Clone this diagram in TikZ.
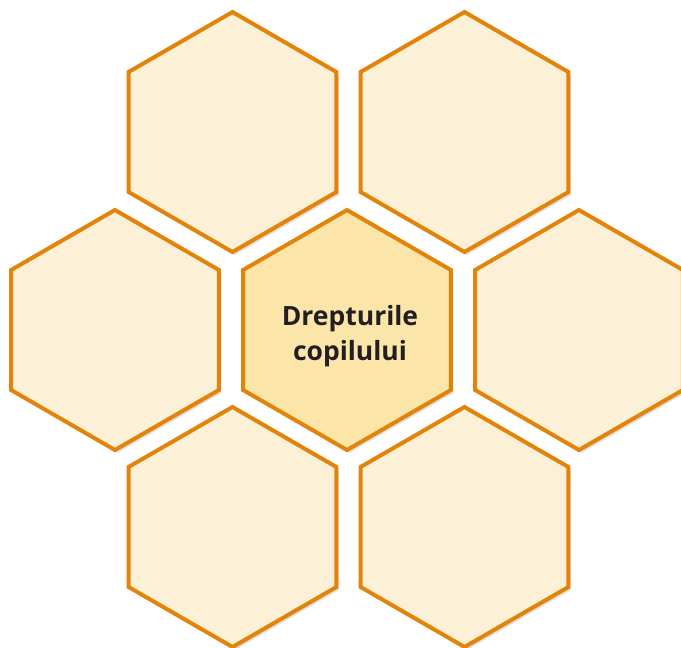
\documentclass[tikz,border=0pt]{standalone}
\usepackage{fontspec}
\setmainfont{Open Sans}
\usetikzlibrary{shapes.geometric,shadows}
\definecolor{HoneyLine}{RGB}{228,131,10}
\definecolor{HoneyFill}{RGB}{252,241,214}
\definecolor{HoneyCore}{RGB}{251,229,168}
\definecolor{InkDark}{RGB}{35,31,32}
\tikzset{
  cell/.style={regular polygon,regular polygon sides=6,shape border rotate=30,
    minimum size=240pt,inner sep=0pt,draw=HoneyLine,line width=4pt,fill=HoneyFill,
    drop shadow={shadow xshift=2.5pt,shadow yshift=-3pt,opacity=0.2,fill=black!60}},
  core/.style={cell,fill=HoneyCore},
}
\tikzset{title/.style={align=center,text=InkDark,font=\bfseries\fontsize{26.5}{35}\selectfont}}

\begin{document}
\begin{tikzpicture}[x=1pt,y=-1pt]
\useasboundingbox (0,0) rectangle (681,648);
\coordinate (c1) at (232.5,132);
\coordinate (c2) at (464.5,132);
\coordinate (c3) at (115,330);
\coordinate (c4) at (347,330);
\coordinate (c5) at (579,330);
\coordinate (c6) at (232.5,527);
\coordinate (c7) at (464.5,527);
\node[cell] (h1) at (c1) {};
\node[cell] (h2) at (c2) {};
\node[cell] (h3) at (c3) {};
\node[core] (h4) at (c4) {};
\node[cell] (h5) at (c5) {};
\node[cell] (h6) at (c6) {};
\node[cell] (h7) at (c7) {};
\node[title] (t4) at ([xshift=3pt,yshift=-6pt]h4.center) {Drepturile\\copilului};
\end{tikzpicture}
\end{document}
